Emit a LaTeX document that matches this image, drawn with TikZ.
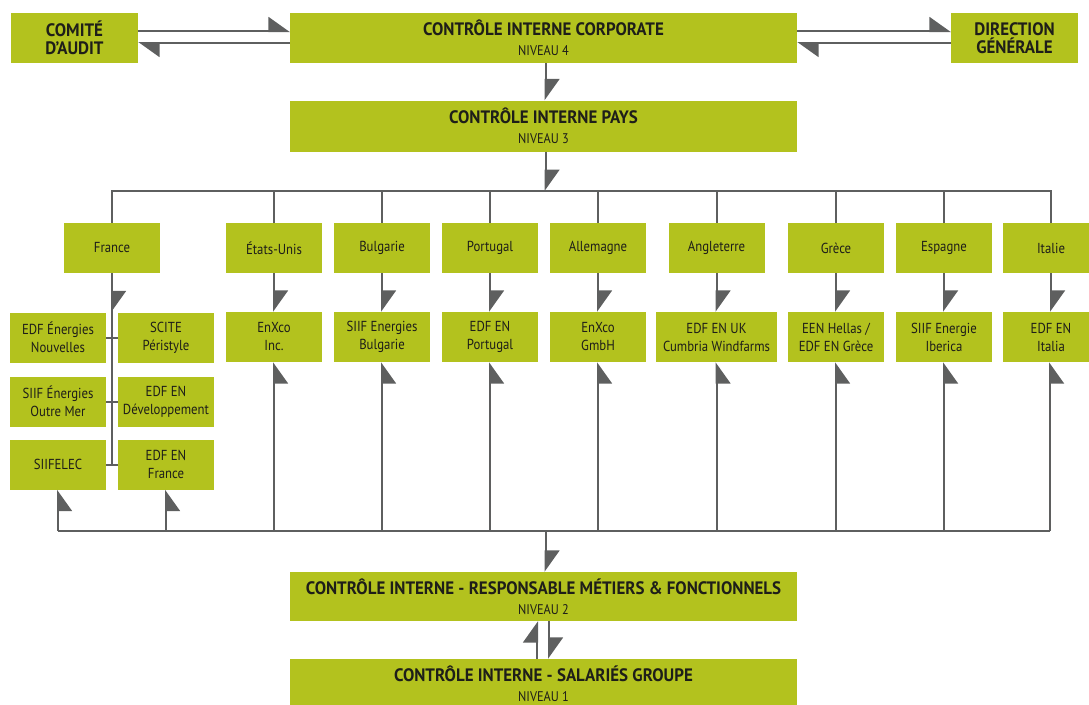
\documentclass[tikz,border=0pt]{standalone}
\usepackage{fontspec}
\setmainfont{PT Sans}[FakeStretch=0.88, BoldFeatures={FakeStretch=0.94}]
\usetikzlibrary{arrows.meta}
\definecolor{edfgreen}{RGB}{179,194,30}
\definecolor{linegray}{RGB}{94,95,95}
\definecolor{textdark}{RGB}{30,30,25}
\newcommand{\titre}[1]{{\fontsize{18}{20}\selectfont\bfseries #1}}

\begin{document}
\begin{tikzpicture}[x=1pt,y=-1pt,
	box/.style={rectangle, fill=edfgreen, text=textdark, inner sep=0pt, align=center, minimum width=96pt, minimum height=50pt, font=\fontsize{14.5}{18}\selectfont},
	bigbox/.style={box, minimum width=507pt, font=\fontsize{14}{20}\selectfont},
	link/.style={linegray, line width=2pt},
	flow/.style={link, -{Triangle[harpoon, length=20pt, width=28pt]}},
	flowback/.style={link, -{Triangle[harpoon, swap, length=20pt, width=28pt]}}]
	\path[use as bounding box, clip] (0,0) rectangle (1089,704);

	\node[box, minimum width=127pt] (comite) at (74.5,38) {\titre{COMITÉ}\\\titre{D'AUDIT}};
	\node[bigbox] (corporate) at (543.5,38) {\titre{CONTRÔLE INTERNE CORPORATE}\\NIVEAU 4};
	\node[box, minimum width=127pt] (direction) at (1014.5,38) {\titre{DIRECTION}\\\titre{GÉNÉRALE}};
	\node[bigbox, minimum height=51pt] (pays) at (543.5,126) {\titre{CONTRÔLE INTERNE PAYS}\\NIVEAU 3};

	\node[box] (france) at (112,248) {France};
	\node[box] (etats) at (274,248) {États-Unis};
	\node[box] (bulgarie) at (382,248) {Bulgarie};
	\node[box] (portugal) at (490,248) {Portugal};
	\node[box] (allemagne) at (598,248) {Allemagne};
	\node[box] (angleterre) at (716.5,248) {Angleterre};
	\node[box] (grece) at (836,248) {Grèce};
	\node[box] (espagne) at (944,248) {Espagne};
	\node[box] (italie) at (1051,248) {Italie};

	\node[box] (edfen) at (58,337.5) {EDF Énergies\\Nouvelles};
	\node[box] (scite) at (166,337.5) {SCITE\\Péristyle};
	\node[box] (siifom) at (58,401.5) {SIIF Énergies\\Outre Mer};
	\node[box] (edfdev) at (166,401.5) {EDF EN\\Développement};
	\node[box] (siifelec) at (58,464.5) {SIIFELEC};
	\node[box] (edffr) at (166,464.5) {EDF EN\\France};
	\node[box] (enxcous) at (274,337) {EnXco\\Inc.};
	\node[box] (siifbg) at (382,337) {SIIF Energies\\Bulgarie};
	\node[box] (edfpt) at (490,337) {EDF EN\\Portugal};
	\node[box] (enxcode) at (598,337) {EnXco\\GmbH};
	\node[box, minimum width=121pt] (edfuk) at (716.5,337) {EDF EN UK\\Cumbria Windfarms};
	\node[box] (een) at (836,337) {EEN Hellas /\\EDF EN Grèce};
	\node[box] (siifes) at (944,337) {SIIF Energie\\Iberica};
	\node[box] (edfit) at (1051,337) {EDF EN\\Italia};

	\node[bigbox, minimum height=49pt] (metiers) at (543.5,596.5) {\titre{CONTRÔLE INTERNE - RESPONSABLE MÉTIERS \& FONCTIONNELS}\\NIVEAU 2};
	\node[bigbox] (salaries) at (543.5,684) {\titre{CONTRÔLE INTERNE - SALARIÉS GROUPE}\\NIVEAU 1};

	% niveau 4
	\draw[flow] ([yshift=7pt]comite.east) -- ([yshift=7pt]corporate.west);
	\draw[flow] ([yshift=-5pt]corporate.west) -- ([yshift=-5pt]comite.east);
	\draw[flow] ([yshift=7pt]corporate.east) -- ([yshift=7pt]direction.west);
	\draw[flow] ([yshift=-5pt]direction.west) -- ([yshift=-5pt]corporate.east);
	\draw[flow] ([xshift=2pt]corporate.south) -- ([xshift=2pt]pays.north);
	% niveau 3
	\coordinate (bus3) at (545.5,191);
	\draw[flow] (pays.south -| bus3) -- (bus3);
	\draw[link] (france.north) |- (bus3) -| (italie.north);
	\draw[link] (etats.north) -- (etats.north |- bus3);
	\draw[link] (bulgarie.north) -- (bulgarie.north |- bus3);
	\draw[link] (portugal.north) -- (portugal.north |- bus3);
	\draw[link] (allemagne.north) -- (allemagne.north |- bus3);
	\draw[link] (angleterre.north) -- (angleterre.north |- bus3);
	\draw[link] (grece.north) -- (grece.north |- bus3);
	\draw[link] (espagne.north) -- (espagne.north |- bus3);
	% pays
	\draw[link] (france.south) -- (france.south |- siifelec);
	\draw[flow] (france.south) -- (france.south |- scite.north);
	\draw[link] (edfen) -- (scite);
	\draw[link] (siifom) -- (edfdev);
	\draw[link] (siifelec) -- (edffr);
	\draw[flow] (etats) -- (enxcous);
	\draw[flow] (bulgarie) -- (siifbg);
	\draw[flow] (portugal) -- (edfpt);
	\draw[flow] (allemagne) -- (enxcode);
	\draw[flow] (angleterre) -- (edfuk);
	\draw[flow] (grece) -- (een);
	\draw[flow] (espagne) -- (siifes);
	\draw[flow] (italie) -- (edfit);
	% niveau 2
	\coordinate (bus2) at (545.5,531);
	\draw[link] (siifelec.south |- bus2) -- ([xshift=-1pt]edfit.south |- bus2);
	\draw[flowback] (siifelec.south |- bus2) -- (siifelec.south);
	\draw[flowback] (edffr.south |- bus2) -- (edffr.south);
	\draw[flowback] (enxcous.south |- bus2) -- (enxcous.south);
	\draw[flowback] (siifbg.south |- bus2) -- (siifbg.south);
	\draw[flowback] (edfpt.south |- bus2) -- (edfpt.south);
	\draw[flowback] (enxcode.south |- bus2) -- (enxcode.south);
	\draw[flowback] (edfuk.south |- bus2) -- (edfuk.south);
	\draw[flowback] (een.south |- bus2) -- (een.south);
	\draw[flowback] (siifes.south |- bus2) -- (siifes.south);
	\draw[flowback] ([xshift=-1pt]edfit.south |- bus2) -- ([xshift=-1pt]edfit.south);
	\draw[flow] (bus2) -- (metiers.north -| bus2);
	% niveau 1
	\draw[flow] ([xshift=-6.5pt]salaries.north) -- ([xshift=-6.5pt]metiers.south);
	\draw[flow] ([xshift=5.5pt]metiers.south) -- ([xshift=5.5pt]salaries.north);
\end{tikzpicture}
\end{document}
